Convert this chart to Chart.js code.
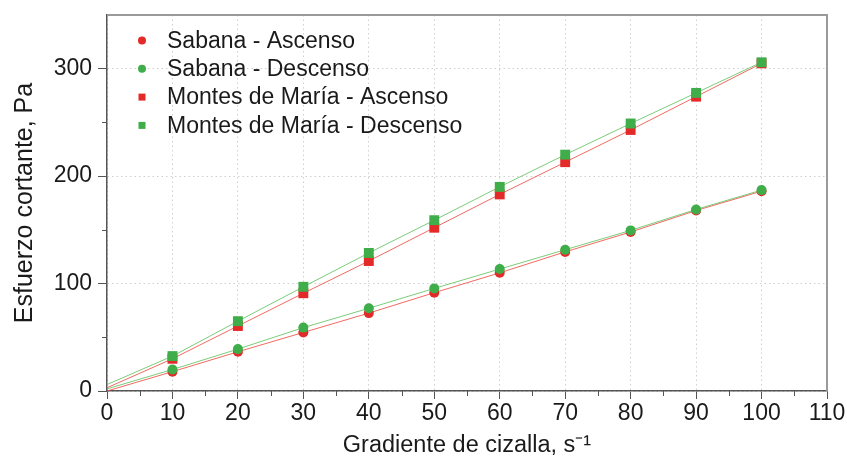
<!DOCTYPE html>
<html>
<head>
<meta charset="utf-8">
<script src="https://cdn.jsdelivr.net/npm/chart.js@4/dist/chart.umd.min.js"></script>
<style>
  html, body { margin: 0; padding: 0; background: #fff; }
  #wrap { width: 847px; height: 461px; }
</style>
</head>
<body>
<div id="wrap"><canvas id="c"></canvas></div>
<script>
// Shear rate (s^-1) and measured shear stress (Pa)
const gradiente = [0, 10, 20, 30, 40, 50, 60, 70, 80, 90, 100];
const sabanaAscenso   = [0, 18, 36.5, 54.5, 72.5, 91.5, 110, 129.5, 148, 168, 186];
const sabanaDescenso  = [2, 20, 39, 59, 77, 95.5, 113.5, 131.5, 149.5, 169, 187];
const montesAscenso   = [3, 30, 60.5, 91, 121, 152, 183, 213, 243, 274, 305];
const montesDescenso  = [6, 32.5, 65, 97, 128.5, 159, 190, 220, 249, 277.5, 306];

const xTicks = [0, 10, 20, 30, 40, 50, 60, 70, 80, 90, 100, 110];
const yTicks = [0, 100, 200, 300];

const FONT = '"Liberation Sans", Arial, Helvetica, sans-serif';
const TEXT = '#1a1a1a';
const AXIS = '#555';
const RED = '#e42a28';
const GREEN = '#3fae4a';
const RED_LINE = 'rgba(238,80,70,0.85)';
const GREEN_LINE = 'rgba(100,195,100,0.85)';

const pts = (ys) => gradiente.map((x, i) => ({ x, y: ys[i] }));
// the origin point only anchors the line, it carries no marker
const markerRadius = (r) => (ctx) => ctx.dataIndex === 0 ? 0 : r;

function series(label, ys, style, color, lineColor, order) {
  return {
    label, data: pts(ys), pointStyle: style,
    pointRadius: markerRadius(style === 'rect' ? 7 : 5),
    pointHoverRadius: markerRadius(style === 'rect' ? 7 : 5),
    pointBackgroundColor: color, pointBorderColor: color, pointBorderWidth: 0,
    borderColor: lineColor, borderWidth: 1, showLine: true, tension: 0,
    order
  };
}

// Top/right frame and minor ticks around the plot area
const framePlugin = {
  id: 'frame',
  afterDraw(chart) {
    const { ctx, chartArea: a, scales: { x, y } } = chart;
    ctx.save();
    ctx.strokeStyle = '#9a9a9a';
    ctx.lineWidth = 2;
    ctx.beginPath();
    ctx.moveTo(a.left, a.top);
    ctx.lineTo(a.right, a.top);
    ctx.lineTo(a.right, a.bottom);
    ctx.stroke();

    ctx.strokeStyle = AXIS;
    ctx.lineWidth = 1;
    ctx.beginPath();
    for (let i = 0; i < xTicks.length - 1; i++) {
      const px = Math.round(x.getPixelForValue((xTicks[i] + xTicks[i + 1]) / 2)) + 0.5;
      ctx.moveTo(px, a.bottom);
      ctx.lineTo(px, a.bottom + 5);
    }
    for (let i = 0; i < yTicks.length; i++) {
      const next = i + 1 < yTicks.length ? yTicks[i + 1] : y.max + (y.max - yTicks[i]);
      const v = (yTicks[i] + next) / 2;
      if (v >= y.max) continue;
      const py = Math.round(y.getPixelForValue(v)) + 0.5;
      ctx.moveTo(a.left, py);
      ctx.lineTo(a.left - 5, py);
    }
    ctx.stroke();
    ctx.restore();
  }
};

// Legend drawn inside the plot, top-left
const insideLegend = {
  id: 'insideLegend',
  afterDraw(chart) {
    const { ctx, chartArea: a } = chart;
    ctx.save();
    ctx.font = '23px ' + FONT;
    ctx.textBaseline = 'middle';
    ctx.textAlign = 'left';
    chart.data.datasets.forEach((ds, i) => {
      const cy = a.top + 25.5 + i * 28.3;
      const cx = a.left + 35;
      ctx.fillStyle = ds.pointBackgroundColor;
      if (ds.pointStyle === 'rect') {
        ctx.fillRect(cx - 3.5, cy - 3.5, 7, 7);
      } else {
        ctx.beginPath();
        ctx.arc(cx, cy, 4, 0, Math.PI * 2);
        ctx.fill();
      }
      ctx.fillStyle = TEXT;
      ctx.fillText(ds.label, a.left + 60, cy + 1);
    });
    ctx.restore();
  }
};

new Chart(document.getElementById('c'), {
  type: 'scatter',
  data: {
    datasets: [
      series('Sabana - Ascenso', sabanaAscenso, 'circle', RED, RED_LINE, 3),
      series('Sabana - Descenso', sabanaDescenso, 'circle', GREEN, GREEN_LINE, 1),
      series('Montes de María - Ascenso', montesAscenso, 'rect', RED, RED_LINE, 2),
      series('Montes de María - Descenso', montesDescenso, 'rect', GREEN, GREEN_LINE, 0)
    ]
  },
  options: {
    responsive: true,
    maintainAspectRatio: false,
    animation: false,
    devicePixelRatio: 1,
    layout: { padding: { top: 15, right: 20, left: 0, bottom: 0 } },
    plugins: { legend: { display: false }, tooltip: { enabled: false } },
    scales: {
      x: {
        type: 'linear', min: 0, max: 110,
        afterBuildTicks: (s) => { s.ticks = xTicks.map(v => ({ value: v })); },
        afterFit: (s) => { s.height = 70; },
        ticks: { color: TEXT, font: { family: FONT, size: 23 }, padding: 1, maxRotation: 0 },
        grid: { color: '#cfcfcf', lineWidth: 1, tickLength: 8, tickColor: AXIS, tickWidth: 1 },
        border: { color: AXIS, width: 1.5, dash: [1.5, 3] },
        title: { display: true, text: 'Gradiente de cizalla, s⁻¹', color: TEXT,
                 font: { family: FONT, size: 23.5 }, padding: { top: 0, bottom: 1 } }
      },
      y: {
        type: 'linear', min: 0, max: 350,
        afterBuildTicks: (s) => { s.ticks = yTicks.map(v => ({ value: v })); },
        afterFit: (s) => { s.width = 107; s.paddingTop = 0; s.paddingBottom = 0; },
        ticks: { color: TEXT, font: { family: FONT, size: 23 }, padding: 6 },
        grid: { color: '#cfcfcf', lineWidth: 1, tickLength: 9, tickColor: AXIS, tickWidth: 1 },
        border: { color: AXIS, width: 1.5, dash: [1.5, 3] },
        title: { display: true, text: 'Esfuerzo cortante, Pa', color: TEXT,
                 font: { family: FONT, size: 25 }, padding: { top: 10, bottom: 0 } }
      }
    }
  },
  plugins: [framePlugin, insideLegend]
});
</script>
</body>
</html>
